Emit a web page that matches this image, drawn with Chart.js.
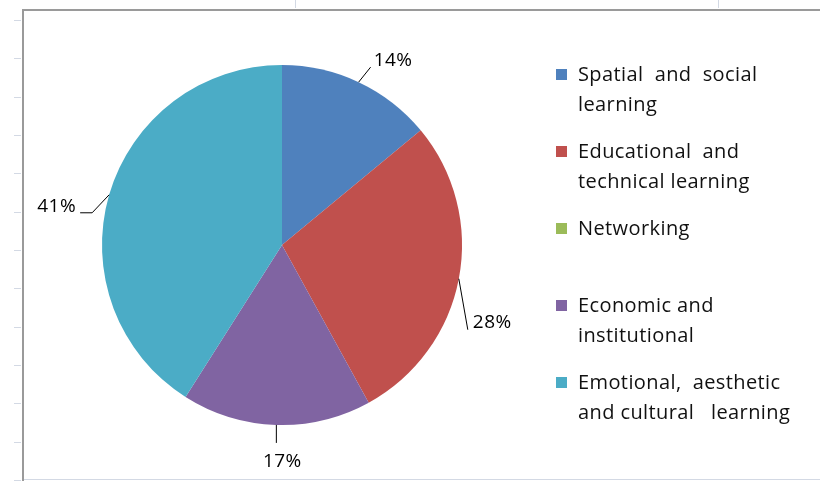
<!DOCTYPE html>
<html>
<head>
<meta charset="utf-8">
<script src="https://cdn.jsdelivr.net/npm/chart.js@4"></script>
<style>
  html, body { margin: 0; padding: 0; background: #fff; }
  #wrap { width: 820px; height: 481px; position: relative; }
</style>
</head>
<body>
<div id="wrap"><canvas id="pie" width="820" height="481"></canvas></div>
<script>
// data
let categories = [
  "Spatial and social learning",
  "Educational and technical learning",
  "Networking",
  "Economic and institutional",
  "Emotional, aesthetic and cultural learning"
];
let legendLines = [
  ["Spatial  and  social", "learning"],
  ["Educational  and", "technical learning"],
  ["Networking"],
  ["Economic and", "institutional"],
  ["Emotional,  aesthetic", "and cultural   learning"]
];
let shares = [14, 28, 0, 17, 41];
let colors = ["#4F81BD", "#C0504D", "#9BBB59", "#8064A2", "#4BACC6"];

// leader lines: segments from the slice edge, then label offset from the end
let leaders = [
  { segs: [[12, -15]], align: "left", off: [3, -7] },
  { segs: [[9, 51]], align: "left", off: [5, -7] },
  null,
  { segs: [[0, 18]], align: "center", off: [6, 19] },
  { segs: [[-17, 18], [-12, 0]], align: "right", off: [-4, -6] }
];

const FONT = "'Open Sans', Lato, sans-serif";

// marco estilo Excel
const framePlugin = {
  id: "frame",
  beforeDraw(chart) {
    let ctx = chart.ctx;
    ctx.save();
    ctx.fillStyle = "#fff";
    ctx.fillRect(0, 0, chart.width, chart.height);
    ctx.strokeStyle = "#d3d9e4";
    ctx.lineWidth = 1;
    for (let i = 0; i < 13; i++) {
      let y = Math.round(20 + i * 38.33) + 0.5;
      ctx.beginPath(); ctx.moveTo(14, y); ctx.lineTo(21, y); ctx.stroke();
    }
    [295.5, 718.5].forEach(x => {
      ctx.beginPath(); ctx.moveTo(x, 0); ctx.lineTo(x, 8); ctx.stroke();
    });
    ctx.beginPath(); ctx.moveTo(24, 479.5); ctx.lineTo(820, 479.5); ctx.stroke();
    ctx.strokeStyle = "#9a9a9a";
    ctx.lineWidth = 2;
    ctx.beginPath();
    ctx.moveTo(23, 481); ctx.lineTo(23, 10); ctx.lineTo(820, 10);
    ctx.stroke();
    ctx.restore();
  }
};

// etiquetas y leyenda
const labelPlugin = {
  id: "labels",
  afterDatasetsDraw(chart) {
    let ctx = chart.ctx;
    let meta = chart.getDatasetMeta(0);
    let total = shares.reduce((a, b) => a + b, 0);
    ctx.save();
    ctx.letterSpacing = "0.5px";
    meta.data.forEach((arc, i) => {
      let L = leaders[i];
      if (!L || !shares[i]) return;
      let mid = (arc.startAngle + arc.endAngle) / 2;
      let x = arc.x + Math.cos(mid) * arc.outerRadius;
      let y = arc.y + Math.sin(mid) * arc.outerRadius;
      ctx.strokeStyle = "#000";
      ctx.lineWidth = 1;
      ctx.beginPath();
      ctx.moveTo(x, y);
      L.segs.forEach(s => { x += s[0]; y += s[1]; ctx.lineTo(x, y); });
      ctx.stroke();
      ctx.fillStyle = "#000";
      ctx.font = "19px " + FONT;
      ctx.textAlign = L.align;
      ctx.textBaseline = "middle";
      ctx.fillText(Math.round(shares[i] / total * 100) + "%", x + L.off[0], y + L.off[1]);
    });

    // leyenda
    ctx.font = "20px " + FONT;
    ctx.letterSpacing = "0.4px";
    ctx.textAlign = "left";
    ctx.textBaseline = "middle";
    legendLines.forEach((lines, i) => {
      let top = 75 + i * 77;
      ctx.fillStyle = colors[i];
      ctx.fillRect(556, top - 6, 11, 11);
      ctx.fillStyle = "#111";
      lines.forEach((t, j) => ctx.fillText(t, 578, top + j * 30));
    });
    ctx.restore();
  }
};

new Chart(document.getElementById("pie"), {
  type: "pie",
  data: {
    labels: categories,
    datasets: [{ data: shares, backgroundColor: colors, borderWidth: 0 }]
  },
  options: {
    responsive: false,
    animation: false,
    layout: { padding: { left: 102, right: 358, top: 65, bottom: 56 } },
    plugins: { legend: { display: false }, tooltip: { enabled: false } }
  },
  plugins: [framePlugin, labelPlugin]
});
</script>
</body>
</html>
